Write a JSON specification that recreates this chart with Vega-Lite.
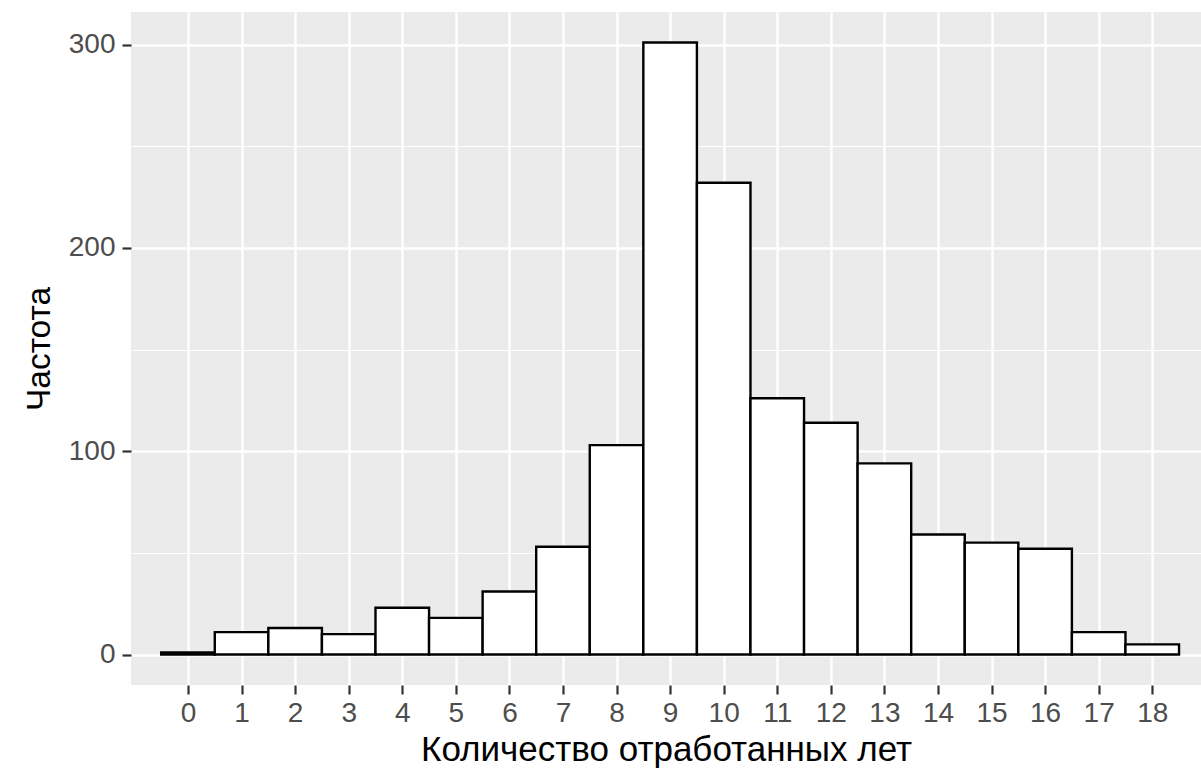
{
  "$schema": "https://vega.github.io/schema/vega-lite/v6.json",
  "width": 1070,
  "height": 673,
  "autosize": {"type": "none"},
  "padding": {"left": 131, "top": 12, "right": 0, "bottom": 86},
  "background": "white",
  "config": {
    "view": {"fill": "#EBEBEB", "stroke": null},
    "font": "Liberation Sans"
  },
  "data": {
    "values": [
      {"years": 0, "start": -0.5, "end": 0.5, "count": 1},
      {"years": 1, "start": 0.5, "end": 1.5, "count": 11},
      {"years": 2, "start": 1.5, "end": 2.5, "count": 13},
      {"years": 3, "start": 2.5, "end": 3.5, "count": 10},
      {"years": 4, "start": 3.5, "end": 4.5, "count": 23},
      {"years": 5, "start": 4.5, "end": 5.5, "count": 18},
      {"years": 6, "start": 5.5, "end": 6.5, "count": 31},
      {"years": 7, "start": 6.5, "end": 7.5, "count": 53},
      {"years": 8, "start": 7.5, "end": 8.5, "count": 103},
      {"years": 9, "start": 8.5, "end": 9.5, "count": 301},
      {"years": 10, "start": 9.5, "end": 10.5, "count": 232},
      {"years": 11, "start": 10.5, "end": 11.5, "count": 126},
      {"years": 12, "start": 11.5, "end": 12.5, "count": 114},
      {"years": 13, "start": 12.5, "end": 13.5, "count": 94},
      {"years": 14, "start": 13.5, "end": 14.5, "count": 59},
      {"years": 15, "start": 14.5, "end": 15.5, "count": 55},
      {"years": 16, "start": 15.5, "end": 16.5, "count": 52},
      {"years": 17, "start": 16.5, "end": 17.5, "count": 11},
      {"years": 18, "start": 17.5, "end": 18.5, "count": 5}
    ]
  },
  "mark": {"type": "rect", "fill": "white", "stroke": "black", "strokeWidth": 2.4},
  "encoding": {
    "x": {
      "field": "start",
      "type": "quantitative",
      "scale": {"domain": [-1.064, 18.91], "nice": false, "zero": false},
      "axis": {
        "values": [0, 1, 2, 3, 4, 5, 6, 7, 8, 9, 10, 11, 12, 13, 14, 15, 16, 17, 18],
        "title": "Количество отработанных лет",
        "titleFontSize": 35,
        "titleFontWeight": "normal",
        "titleColor": "black",
        "titlePadding": 5,
        "domain": false,
        "grid": true,
        "gridColor": "white",
        "gridWidth": 2.4,
        "tickColor": "#333333",
        "tickSize": 9,
        "tickWidth": 2.2,
        "labelColor": "#4D4D4D",
        "labelFontSize": 28,
        "labelPadding": 5,
        "labelFlush": false,
        "labelOverlap": false
      }
    },
    "x2": {"field": "end"},
    "y": {
      "field": "count",
      "type": "quantitative",
      "scale": {"domain": [-15, 316], "nice": false, "zero": false},
      "axis": {
        "values": [0, 50, 100, 150, 200, 250, 300],
        "labelExpr": "datum.value % 100 === 0 ? datum.label : ''",
        "title": "Частота",
        "titleFontSize": 33.5,
        "titleFontWeight": "normal",
        "titleColor": "black",
        "titlePadding": 12,
        "domain": false,
        "grid": true,
        "gridColor": "white",
        "gridWidth": {"condition": {"test": "datum.value % 100 === 0", "value": 2.4}, "value": 1.2},
        "tickColor": "#333333",
        "tickSize": 9,
        "tickWidth": 2.2,
        "tickOpacity": {"condition": {"test": "datum.value % 100 === 0", "value": 1}, "value": 0},
        "labelColor": "#4D4D4D",
        "labelFontSize": 28,
        "labelPadding": 7
      }
    },
    "y2": {"datum": 0}
  }
}
